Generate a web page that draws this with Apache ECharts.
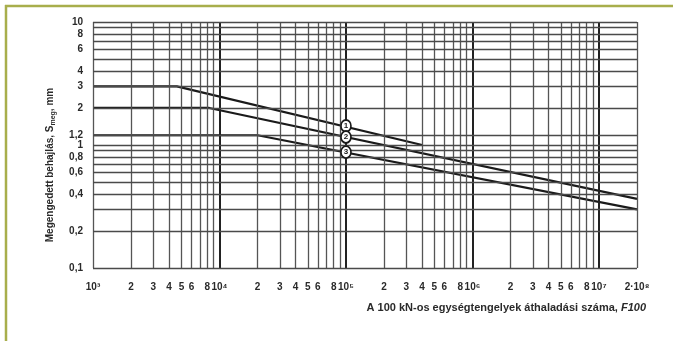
<!DOCTYPE html>
<html><head><meta charset="utf-8">
<script src="https://cdn.jsdelivr.net/npm/echarts@6/dist/echarts.min.js"></script>
<style>html,body{margin:0;padding:0;background:#fff}#c{width:673px;height:341px}</style>
</head><body><div id="c"></div>
<script>
// ---- tick labels ----
const xTickValues = [1e3,2e3,3e3,4e3,5e3,6e3,8e3,1e4,2e4,3e4,4e4,5e4,6e4,8e4,1e5,2e5,3e5,4e5,5e5,6e5,8e5,1e6,2e6,3e6,4e6,5e6,6e6,8e6,1e7,2e7];
const xTickLabels = ['10³','2','3','4','5','6','8','10⁴','2','3','4','5','6','8','10⁵','2','3','4','5','6','8','10⁶','2','3','4','5','6','8','10⁷','2·10⁸'];
const xGridLines = [1e3,2e3,3e3,4e3,5e3,6e3,7e3,8e3,9e3,1e4,2e4,3e4,4e4,5e4,6e4,7e4,8e4,9e4,1e5,2e5,3e5,4e5,5e5,6e5,7e5,8e5,9e5,1e6,2e6,3e6,4e6,5e6,6e6,7e6,8e6,9e6,1e7,2e7];
const xDecadeLines = [1e4,1e5,1e6,1e7];
const yTickValues = [0.1,0.2,0.4,0.6,0.8,1,1.2,2,3,4,6,8,10];
const yTickLabels = ['0,1','0,2','0,4','0,6','0,8','1','1,2','2','3','4','6','8','10'];
const yGridLines = [0.1,0.2,0.3,0.4,0.5,0.6,0.7,0.8,0.9,1,1.2,2,3,4,5,6,7,8,9,10];

// ---- curves ----
const curve1X = [1000, 4600, 400000];
const curve1Y = [3, 3, 1.0];
const curve2X = [1000, 8300, 20000000];
const curve2Y = [2, 2, 0.365];
const curve3X = [1000, 20000, 20000000];
const curve3Y = [1.2, 1.2, 0.3];

// ---- numbered markers ----
const markerX = [1e5, 1e5, 1e5];
const markerY = [1.43, 1.16, 0.875];
const markerLabels = ['1', '2', '3'];

const FONT = 'Liberation Sans';
const zip = (xs, ys) => xs.map((x, i) => [x, ys[i]]);

const vLines = xGridLines.map(v => {
  const idx = xTickValues.indexOf(v);
  const decade = xDecadeLines.indexOf(v) >= 0;
  return {
    xAxis: v,
    lineStyle: decade ? {color: '#222222', width: 2, type: 'solid'} : {color: '#555555', width: 1.3, type: 'solid'},
    label: idx >= 0 ? {show: true, formatter: xTickLabels[idx], distance: 14} : {show: false}
  };
});
const hLines = yGridLines.map(v => {
  const idx = yTickValues.indexOf(v);
  return {
    yAxis: v,
    lineStyle: {color: '#4a4a4a', width: 1.3, type: 'solid'},
    label: idx >= 0 ? {show: true, formatter: yTickLabels[idx], distance: 10} : {show: false}
  };
});

const chart = echarts.init(document.getElementById('c'), null, {renderer: 'canvas'});
const curveStyle = {color: '#1a1a1a', width: 2.2};
chart.setOption({
  animation: false,
  backgroundColor: '#ffffff',
  grid: {left: 93, right: 36, top: 22, bottom: 73},
  xAxis: {
    type: 'log', logBase: 10, min: 1000, max: 2e7,
    axisLine: {show: false}, axisTick: {show: false}, axisLabel: {show: false}, splitLine: {show: false}
  },
  yAxis: {
    type: 'log', logBase: 10, min: 0.1, max: 10,
    axisLine: {show: false}, axisTick: {show: false}, axisLabel: {show: false}, splitLine: {show: false}
  },
  series: [
    {
      type: 'line', data: [], z: 1, silent: true,
      markLine: {
        silent: true, symbol: 'none', animation: false,
        label: {position: 'start', fontFamily: FONT, fontSize: 10, fontWeight: 'bold', color: '#2a2a2a'},
        data: vLines.concat(hLines)
      }
    },
    {type: 'line', name: '1', data: zip(curve1X, curve1Y), symbol: 'none', lineStyle: curveStyle, z: 3, silent: true},
    {type: 'line', name: '2', data: zip(curve2X, curve2Y), symbol: 'none', lineStyle: curveStyle, z: 3, silent: true},
    {type: 'line', name: '3', data: zip(curve3X, curve3Y), symbol: 'none', lineStyle: curveStyle, z: 3, silent: true},
    {
      type: 'scatter', z: 5, silent: true,
      data: zip(markerX, markerY).map((p, i) => ({value: p, label: {formatter: markerLabels[i]}})),
      symbol: 'circle', symbolSize: [10, 12],
      itemStyle: {color: '#ffffff', borderColor: '#1a1a1a', borderWidth: 1.8, opacity: 1},
      label: {show: true, position: 'inside', fontFamily: FONT, fontSize: 8, fontWeight: 'bold', color: '#1a1a1a'}
    }
  ],
  graphic: [
    {type: 'line', shape: {x1: 5, y1: 6, x2: 673, y2: 6}, style: {stroke: '#a8ae4c', lineWidth: 2.5}, z: 10},
    {type: 'line', shape: {x1: 6, y1: 5, x2: 6, y2: 341}, style: {stroke: '#a8ae4c', lineWidth: 2.5}, z: 10},
    {type: 'text', x: 50, y: 165, rotation: Math.PI / 2, z: 10,
      style: {text: 'Megengedett behajlás, S{s|meg}, mm',
        font: 'bold 10px "Liberation Sans"', fill: '#2a2a2a', align: 'center', verticalAlign: 'middle',
        rich: {s: {fontFamily: FONT, fontSize: 7, fontWeight: 'bold', fill: '#2a2a2a', padding: [7, 0, 0, 0]}}}},
    {type: 'text', right: 27, top: 302, z: 10,
      style: {text: 'A 100 kN-os egységtengelyek áthaladási száma, {i|F100}',
        font: 'bold 11px "Liberation Sans"', fill: '#2a2a2a',
        rich: {i: {fontStyle: 'italic', fontWeight: 'bold', fontFamily: FONT, fontSize: 11, fill: '#2a2a2a'}}}}
  ]
});
</script></body></html>
